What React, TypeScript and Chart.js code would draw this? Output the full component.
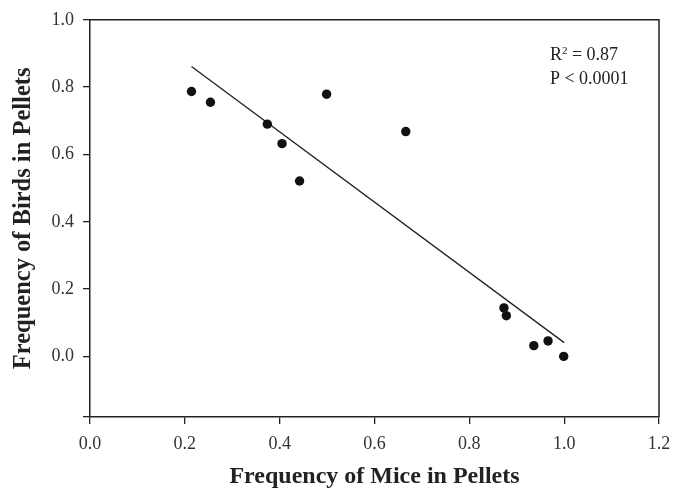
import React, { useEffect, useRef } from "react";
import { Chart, registerables } from "chart.js";

Chart.register(...registerables);

// Observed data (frequency of mice vs. birds in pellets)
const miceFreq = [0.214, 0.254, 0.374, 0.405, 0.442, 0.499, 0.666, 0.873, 0.878, 0.936, 0.966, 0.999];
const birdFreq = [0.787, 0.755, 0.69, 0.632, 0.521, 0.779, 0.668, 0.144, 0.121, 0.032, 0.046, 0.0];

// Regression line endpoints
const fitX = [0.214, 1.0];
const fitY = [0.861, 0.041];

const xTicks = [0, 0.2, 0.4, 0.6, 0.8, 1.0, 1.2];
const annotationLines = ["R", "2", " = 0.87", "P < 0.0001"];

const SERIF = "'Liberation Serif', 'Times New Roman', serif";
const AXIS_COLOR = "#222";

const boxPlugin = {
  id: "boxAndNotes",
  afterDraw(chart: any) {
    const { ctx, chartArea } = chart;
    const { left, right, top, bottom } = chartArea;
    ctx.save();
    ctx.strokeStyle = AXIS_COLOR;
    ctx.lineWidth = 1.5;
    ctx.beginPath();
    ctx.moveTo(left, top);
    ctx.lineTo(right, top);
    ctx.lineTo(right, bottom);
    ctx.stroke();

    // annotation
    const xs = chart.scales.x;
    const ys = chart.scales.y;
    const ax = xs.getPixelForValue(0.97);
    const ay1 = ys.getPixelForValue(0.88);
    const ay2 = ys.getPixelForValue(0.81);
    ctx.fillStyle = "#222";
    ctx.textBaseline = "alphabetic";
    ctx.textAlign = "left";
    ctx.font = `18px ${SERIF}`;
    ctx.fillText(annotationLines[0], ax, ay1);
    const rw = ctx.measureText(annotationLines[0]).width;
    ctx.font = `11px ${SERIF}`;
    ctx.fillText(annotationLines[1], ax + rw, ay1 - 6);
    const sw = ctx.measureText(annotationLines[1]).width;
    ctx.font = `18px ${SERIF}`;
    ctx.fillText(annotationLines[2], ax + rw + sw, ay1);
    ctx.fillText(annotationLines[3], ax, ay2);
    ctx.restore();
  },
};

export default function App() {
  const ref = useRef<HTMLCanvasElement>(null);

  useEffect(() => {
    document.body.style.margin = "0";
    const canvas = ref.current!;
    const chart = new Chart(canvas, {
      type: "scatter",
      data: {
        datasets: [
          {
            label: "Pellets",
            data: miceFreq.map((x, i) => ({ x, y: birdFreq[i] })),
            backgroundColor: "#111",
            borderColor: "#111",
            pointRadius: 4.7,
            pointHoverRadius: 4.7,
            borderWidth: 0,
          },
          {
            label: "Fit",
            type: "line",
            data: fitX.map((x, i) => ({ x, y: fitY[i] })),
            borderColor: "#222",
            borderWidth: 1.3,
            pointRadius: 0,
            fill: false,
          } as any,
        ],
      },
      options: {
        responsive: false,
        animation: false,
        events: [],
        layout: { padding: { top: 19, right: 22, left: 0, bottom: 0 } },
        plugins: {
          legend: { display: false },
          tooltip: { enabled: false },
        },
        scales: {
          x: {
            type: "linear",
            min: 0,
            max: 1.2,
            afterFit: (s: any) => {
              s.height = 74;
            },
            afterBuildTicks: (s: any) => {
              s.ticks = xTicks.map((v) => ({ value: v }));
            },
            ticks: {
              stepSize: 0.2,
              padding: 9,
              color: "#333",
              font: { family: SERIF, size: 18 },
              callback: (v: any) => Number(v).toFixed(1),
              maxRotation: 0,
            },
            grid: {
              drawOnChartArea: false,
              drawTicks: true,
              tickLength: 7,
              color: AXIS_COLOR,
              lineWidth: 1.3,
            },
            border: { display: true, color: AXIS_COLOR, width: 1.5 },
            title: {
              display: true,
              text: "Frequency of Mice in Pellets",
              color: "#222",
              font: { family: SERIF, size: 24, weight: "bold" },
              padding: { top: 0, bottom: 0 },
            },
          },
          y: {
            type: "linear",
            min: -0.18,
            max: 1.0,
            afterFit: (s: any) => {
              s.width = 90;
            },
            ticks: {
              stepSize: 0.2,
              padding: 9,
              color: "#333",
              font: { family: SERIF, size: 18 },
              callback: (v: any) => (Number(v) < -0.05 ? "" : Math.abs(Number(v)).toFixed(1)),
            },
            grid: {
              drawOnChartArea: false,
              drawTicks: true,
              tickLength: 7,
              color: AXIS_COLOR,
              lineWidth: 1.3,
            },
            border: { display: true, color: AXIS_COLOR, width: 1.5 },
            title: {
              display: true,
              text: "Frequency of Birds in Pellets",
              color: "#222",
              font: { family: SERIF, size: 24.5, weight: "bold" },
              padding: { top: 9, bottom: 0 },
            },
          },
        },
      },
      plugins: [boxPlugin],
    });
    return () => chart.destroy();
  }, []);

  return (
    <div style={{ width: 681, height: 491 }}>
      <canvas ref={ref} width={681} height={491} style={{ display: "block" }} />
    </div>
  );
}
